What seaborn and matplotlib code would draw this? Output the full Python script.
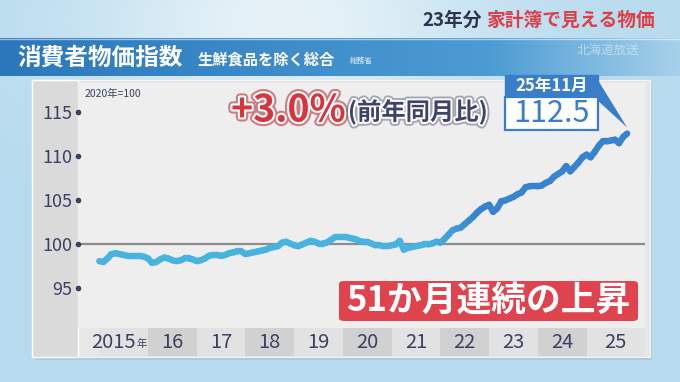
import numpy as np
import pandas as pd
import matplotlib
matplotlib.use("Agg")
import matplotlib.pyplot as plt
import matplotlib.patheffects as pe
from matplotlib.patches import Rectangle, FancyBboxPatch, Polygon
from matplotlib.colors import to_rgb
import seaborn as sns

# Core CPI (excluding fresh food), 2020 = 100, monthly from Jan 2015 to Nov 2025
cpi_2015 = [98.0, 97.9, 98.3, 98.8, 98.9, 98.8, 98.7, 98.6, 98.6, 98.6, 98.6, 98.5]
cpi_2016 = [98.3, 97.8, 97.9, 98.2, 98.4, 98.3, 98.1, 98.0, 98.1, 98.3, 98.3, 98.2]
cpi_2017 = [98.0, 98.1, 98.3, 98.6, 98.7, 98.7, 98.6, 98.7, 98.9, 99.0, 99.1, 99.1]
cpi_2018 = [98.8, 98.9, 99.0, 99.1, 99.2, 99.3, 99.5, 99.6, 99.7, 100.1, 100.2, 100.0]
cpi_2019 = [99.8, 99.7, 99.9, 100.1, 100.3, 100.2, 100.0, 100.0, 100.1, 100.4, 100.7, 100.7]
cpi_2020 = [100.7, 100.7, 100.6, 100.5, 100.3, 100.2, 100.2, 100.0, 99.8, 99.8, 99.7, 99.7]
cpi_2021 = [99.8, 99.9, 100.3, 99.3, 99.5, 99.6, 99.7, 99.8, 99.9, 99.9, 100.0, 100.2]
cpi_2022 = [100.1, 100.5, 101.0, 101.5, 101.7, 101.8, 102.2, 102.6, 103.0, 103.5, 103.9, 104.2]
cpi_2023 = [104.4, 103.6, 104.0, 104.8, 104.9, 105.1, 105.3, 105.6, 105.8, 106.4, 106.5, 106.5]
cpi_2024 = [106.5, 106.6, 106.9, 107.1, 107.6, 107.9, 108.2, 108.8, 108.2, 108.7, 109.2, 109.8]
cpi_2025 = [110.1, 109.8, 110.4, 111.1, 111.6, 111.6, 111.7, 111.8, 111.4, 112.1, 112.5]

year_labels = ["2015", "16", "17", "18", "19", "20", "21", "22", "23", "24", "25"]
y_ticks = [95, 100, 105, 110, 115]
latest_month_label = "25年11月"
yoy_text = "+3.0%"
streak_text = "51か月連続の上昇"

cpi = (cpi_2015 + cpi_2016 + cpi_2017 + cpi_2018 + cpi_2019 + cpi_2020
       + cpi_2021 + cpi_2022 + cpi_2023 + cpi_2024 + cpi_2025)
months = np.arange(len(cpi))  # 0 = January 2015

sns.set_theme(style="white")
plt.rcParams["font.family"] = ["Noto Sans CJK JP", "DejaVu Sans"]

W, H = 680, 382
fig = plt.figure(figsize=(W / 100, H / 100), dpi=100)
NAVY = "#3b4163"
BLUE = "#3a7dc9"
RED = "#dd3e48"


def fx(x):
    return x / W


def fy(y):
    return 1 - y / H


# ---- background: soft sky gradient ----
bg = fig.add_axes([0, 0, 1, 1], zorder=-10)
bg.set_xlim(0, W)
bg.set_ylim(H, 0)
bg.axis("off")
gx, gy = np.meshgrid(np.linspace(0, 1, 200), np.linspace(0, 1, 120))
haze = np.exp(-((gx - 0.42) ** 2) / 0.09 - ((gy - 0.05) ** 2) / 0.08)
c_sky = np.array(to_rgb("#a3d1ea"))
c_light = np.array(to_rgb("#e6f2f8"))
mix = np.clip(0.3 + 0.7 * haze, 0, 1)[..., None]
img = c_sky * (1 - mix) + c_light * mix
bg.imshow(img, extent=[0, W, H, 0], aspect="auto", interpolation="bilinear")

# header band with a blue fade to the right
hx = np.linspace(0, 1, 300)
c0 = np.array(to_rgb("#2a77bc"))
c1 = np.array(to_rgb("#4c9bd3"))
c2 = np.array(to_rgb("#a7d1ea"))
band = np.where(hx[:, None] < 0.72,
                c0 + (c1 - c0) * (hx[:, None] / 0.72),
                c1 + (c2 - c1) * ((hx[:, None] - 0.72) / 0.28))
bg.imshow(band[None, :, :], extent=[0, W, 76, 38], aspect="auto", interpolation="bilinear")
bg.plot([0, W], [38.5, 38.5], color="white", alpha=0.55, lw=1.0)

# ---- titles ----
r = fig.canvas.get_renderer()
t_red = fig.text(fx(655), fy(20), "家計簿で見える物価", color=RED, fontsize=13.5,
                 fontweight="bold", ha="right", va="center")
bb = t_red.get_window_extent(r)
fig.text(bb.x0 / W - fx(4), fy(20), "23年分", color="#2c3450", fontsize=13.5,
         fontweight="bold", ha="right", va="center")

fig.text(fx(17), fy(58), "消費者物価指数", color="white", fontsize=17,
         fontweight="bold", ha="left", va="center")
fig.text(fx(198), fy(60), "生鮮食品を除く総合", color="white", fontsize=11,
         fontweight="bold", ha="left", va="center")
fig.text(fx(350), fy(61), "総務省", color="white", fontsize=5.5, ha="left", va="center", alpha=0.9)
fig.text(fx(608), fy(50), "北海道放送", color="white", fontsize=9, ha="center",
         va="center", alpha=0.45)

# ---- chart panel ----
fig.patches.append(Rectangle((fx(34), fy(360)), fx(618), (358 - 80) / H,
                             transform=fig.transFigure, facecolor="#5a7f99",
                             alpha=0.18, zorder=0))
fig.patches.append(Rectangle((fx(32), fy(357)), fx(618), (357 - 80) / H,
                             transform=fig.transFigure, facecolor="#e7e7e7",
                             edgecolor="#f4f4f4", lw=0.8, zorder=0.5))
fig.patches.append(Rectangle((fx(32), fy(357)), fx(46), (357 - 80) / H,
                             transform=fig.transFigure, facecolor="#dadada", zorder=0.6))

# main plot area
x_lo, x_hi = -5.25, 134.4
ax = fig.add_axes([fx(78), fy(328), fx(567), (328 - 83) / H], zorder=2)
ax.set_facecolor("#eeeeee")
ax.set_xlim(x_lo, x_hi)
ax.set_ylim(90.4, 118.24)
for s in ax.spines.values():
    s.set_visible(False)
ax.grid(False)
ax.set_xticks([])
ax.set_yticks(y_ticks)
ax.set_yticklabels([str(v) for v in y_ticks])
ax.tick_params(axis="y", length=0, pad=4, labelsize=13, labelcolor=NAVY)
ax.scatter([x_lo] * len(y_ticks), y_ticks, s=9, color=NAVY, clip_on=False, zorder=5)
ax.axhline(100, color="#8d8d8d", lw=1.6, zorder=1)
ax.text(0.012, 0.955, "2020年=100", transform=ax.transAxes, fontsize=7.5,
        color=NAVY, ha="left", va="center")

# line with a colour shift from light cyan to deeper blue
seg_rows = []
for i in range(len(cpi) - 1):
    seg_rows.append((months[i], cpi[i], i))
    seg_rows.append((months[i + 1], cpi[i + 1], i))
seg_df = pd.DataFrame(seg_rows, columns=["month", "cpi", "seg"])
c_left = np.array(to_rgb("#48b3df"))
c_right = np.array(to_rgb("#3783d0"))
palette = []
for i in range(len(cpi) - 1):
    t = np.clip((months[i] - 81) / 12, 0, 1)
    palette.append(tuple(c_left + (c_right - c_left) * t))
sns.lineplot(data=seg_df, x="month", y="cpi", hue="seg", palette=palette,
             legend=False, linewidth=4.6, estimator=None, sort=False,
             solid_capstyle="round", ax=ax, zorder=3)
ax.set_xlabel("")
ax.set_ylabel("")

# year band row
bax = fig.add_axes([fx(78), fy(356), fx(567), (356 - 328) / H], zorder=2)
bax.set_xlim(x_lo, x_hi)
bax.set_ylim(0, 1)
bax.axis("off")
for k, lab in enumerate(year_labels):
    start = max(12 * k, x_lo)
    end = min(12 * (k + 1), x_hi) if k < len(year_labels) - 1 else x_hi
    bax.axvspan(start, end, color="#e2e2e2" if k % 2 == 0 else "#d1d1d1", lw=0)
    if k == 0:
        bax.text(end - 3.0, 0.5, lab, fontsize=14.5, color=NAVY, ha="right", va="center")
        bax.text(end - 2.9, 0.42, "年", fontsize=7.5, color=NAVY, ha="left", va="center")
    else:
        bax.text((start + end) / 2, 0.5, lab, fontsize=14.5, color=NAVY,
                 ha="center", va="center")

# ---- annotations ----
glow_red = [pe.Stroke(linewidth=6.0, foreground="#b8323a", alpha=0.6),
            pe.Stroke(linewidth=3.0, foreground="white"), pe.Normal()]
t_yoy = fig.text(fx(231), fy(110), yoy_text, color="#d8343c", fontsize=27,
                 fontweight="bold", ha="left", va="center", path_effects=glow_red, zorder=6)
bb = t_yoy.get_window_extent(r)
glow_navy = [pe.Stroke(linewidth=5.5, foreground="#4a4f70", alpha=0.45),
             pe.Stroke(linewidth=2.8, foreground="white"), pe.Normal()]
fig.text(bb.x1 / W + fx(2), fy(112), "(前年同月比)", color="#3e4468", fontsize=17.5,
         fontweight="bold", ha="left", va="center", path_effects=glow_navy, zorder=6)

# callout for the latest value
end_x, end_y = ax.transData.transform((months[-1], cpi[-1]))
tip = (end_x / W, (end_y + 6) / H)
fig.patches.append(Polygon([(fx(596), fy(77)), (fx(596), fy(99)), tip], closed=True,
                           transform=fig.transFigure, facecolor=BLUE, lw=0, zorder=6))
fig.patches.append(Rectangle((fx(505), fy(97)), fx(93), 22 / H, transform=fig.transFigure,
                             facecolor=BLUE, edgecolor=BLUE, lw=1, zorder=6))
fig.patches.append(Rectangle((fx(505), fy(130)), fx(93), 33 / H, transform=fig.transFigure,
                             facecolor="white", edgecolor=BLUE, lw=1.6, zorder=6))
fig.text(fx(551.5), fy(86), latest_month_label, color="white", fontsize=12,
         fontweight="bold", ha="center", va="center", zorder=7)
fig.text(fx(551.5), fy(114), f"{cpi[-1]:.1f}", color=BLUE, fontsize=22,
         ha="center", va="center", zorder=7)

# consecutive-rise banner
fig.patches.append(FancyBboxPatch((fx(339), fy(321)), fx(299), 40 / H,
                                  boxstyle="round,pad=0,rounding_size=0.008",
                                  transform=fig.transFigure, facecolor="#df434e",
                                  lw=0, zorder=6))
fig.text(fx(488.5), fy(300), streak_text, color="white", fontsize=25,
         fontweight="bold", ha="center", va="center", zorder=7)

fig.savefig("out.png", dpi=100)
